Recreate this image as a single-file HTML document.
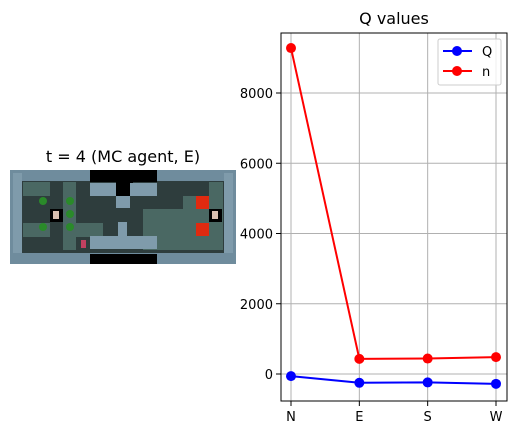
<!DOCTYPE html>
<html><head><meta charset="utf-8"><style>
body{margin:0;background:#fff;width:515px;height:435px;overflow:hidden;font-family:"DejaVu Sans","Liberation Sans",sans-serif}
svg{position:absolute;left:0;top:0}
</style></head><body>
<svg width="515" height="435" font-family="'DejaVu Sans', 'Liberation Sans', sans-serif">
<g>
<text x="123" y="162" font-size="16" text-anchor="middle">t = 4 (MC agent, E)</text>
<rect x="10" y="170" width="226" height="94" fill="#000"/>
<rect x="10" y="170" width="226" height="94" fill="#6f8c9d"/>
<rect x="13" y="181" width="220" height="72" fill="#2e3d3d"/>
<rect x="90" y="170" width="67" height="12" fill="#000"/>
<rect x="90" y="254" width="67" height="10" fill="#000"/>
<rect x="116" y="170" width="17" height="26" fill="#000"/>
<rect x="23" y="182" width="27" height="14" fill="#4a6863"/>
<rect x="63" y="182" width="13" height="68" fill="#4a6863"/>
<rect x="23" y="223" width="27" height="14" fill="#4a6863"/>
<rect x="76" y="223" width="27" height="14" fill="#4a6863"/>
<rect x="143" y="209" width="67" height="41" fill="#4a6863"/>
<rect x="183" y="196" width="27" height="14" fill="#4a6863"/>
<rect x="209" y="182" width="14" height="68" fill="#4a6863"/>
<rect x="90" y="183" width="26" height="13" fill="#7f9bab"/>
<rect x="130" y="183" width="27" height="13" fill="#7f9bab"/>
<rect x="116" y="196" width="14" height="12" fill="#7f9bab"/>
<rect x="90" y="236" width="67" height="13" fill="#7f9bab"/>
<rect x="118" y="222" width="9" height="14" fill="#7f9bab"/>
<rect x="13" y="173" width="9" height="80" fill="#7f9bab"/>
<rect x="224" y="173" width="9" height="80" fill="#7f9bab"/>
<rect x="196" y="196" width="13" height="13" fill="#e02a10"/>
<rect x="196" y="223" width="13" height="13" fill="#e02a10"/>
<rect x="50" y="209" width="13" height="13" fill="#000"/><rect x="53" y="211" width="6" height="8" fill="#d9c0b0"/>
<rect x="209" y="209" width="13" height="13" fill="#000"/><rect x="212" y="211" width="6" height="8" fill="#d9c0b0"/>
<circle cx="43" cy="201" r="4" fill="#2a8a2a"/><circle cx="70" cy="201" r="4" fill="#2a8a2a"/>
<circle cx="70" cy="214" r="4" fill="#2a8a2a"/><circle cx="43" cy="227" r="4" fill="#2a8a2a"/>
<circle cx="70" cy="227" r="4" fill="#2a8a2a"/>
<rect x="81" y="240" width="5" height="8" fill="#c04060"/>
</g>
<g id="chart"></g>
</svg>
<script>
const categories=["N","E","S","W"];
const qValues=[-60,-250,-240,-280];
const nValues=[9280,430,440,480];
const yTicks=[0,2000,4000,6000,8000];
const L=281,R=507,T=33,B=401;
const xs=i=>291+i*(496-291)/3;
const ys=v=>374-v*(281/8000);
const g=document.getElementById('chart');
const NS='http://www.w3.org/2000/svg';
function mk(t,a){const e=document.createElementNS(NS,t);for(const k in a)e.setAttribute(k,a[k]);g.appendChild(e);return e;}
let t=mk('text',{x:394,y:24,'font-size':16,'text-anchor':'middle'});t.textContent='Q values';


categories.forEach((c,i)=>{
 const l=mk('line',{x1:xs(i),x2:xs(i),y1:T,y2:B,stroke:'#b0b0b0','stroke-width':1});
 
 
 mk('line',{x1:xs(i),x2:xs(i),y1:B,y2:B+5,stroke:'#000'});
 const tx=mk('text',{x:xs(i),y:B+20,'font-size':13,'text-anchor':'middle'});tx.textContent=c;
 
 
});
yTicks.forEach(v=>{
 const l=mk('line',{x1:L,x2:R,y1:ys(v),y2:ys(v),stroke:'#b0b0b0','stroke-width':1});
 
 
 mk('line',{x1:L-5,x2:L,y1:ys(v),y2:ys(v),stroke:'#000'});
 const tx=mk('text',{x:L-8,y:ys(v)+5,'font-size':13,'text-anchor':'end'});tx.textContent=v;
 
 
});
function series(vals,col,name){
 const p=mk('polyline',{points:vals.map((v,i)=>xs(i)+','+ys(v)).join(' '),fill:'none',stroke:col,'stroke-width':2});
 
 
 vals.forEach((v,i)=>{const c=mk('circle',{cx:xs(i),cy:ys(v),r:5,fill:col});
 
 });
}
series(nValues,'#ff0000','n');
series(qValues,'#0000ff','q');
const fr=mk('rect',{x:L,y:T,width:R-L,height:B-T,fill:'none',stroke:'#000','stroke-width':1});


const lg=mk('rect',{x:438,y:39,width:63,height:46,fill:'#fff','fill-opacity':0.8,stroke:'#ccc',rx:2});


[['Q','#0000ff',51],['n','#ff0000',71]].forEach(([n,c,y])=>{
 mk('line',{x1:443,x2:472,y1:y,y2:y,stroke:c,'stroke-width':2});
 mk('circle',{cx:457,cy:y,r:5,fill:c});
 const tx=mk('text',{x:482,y:y+5,'font-size':13});tx.textContent=n;
 
 
});
</script>
</body></html>
